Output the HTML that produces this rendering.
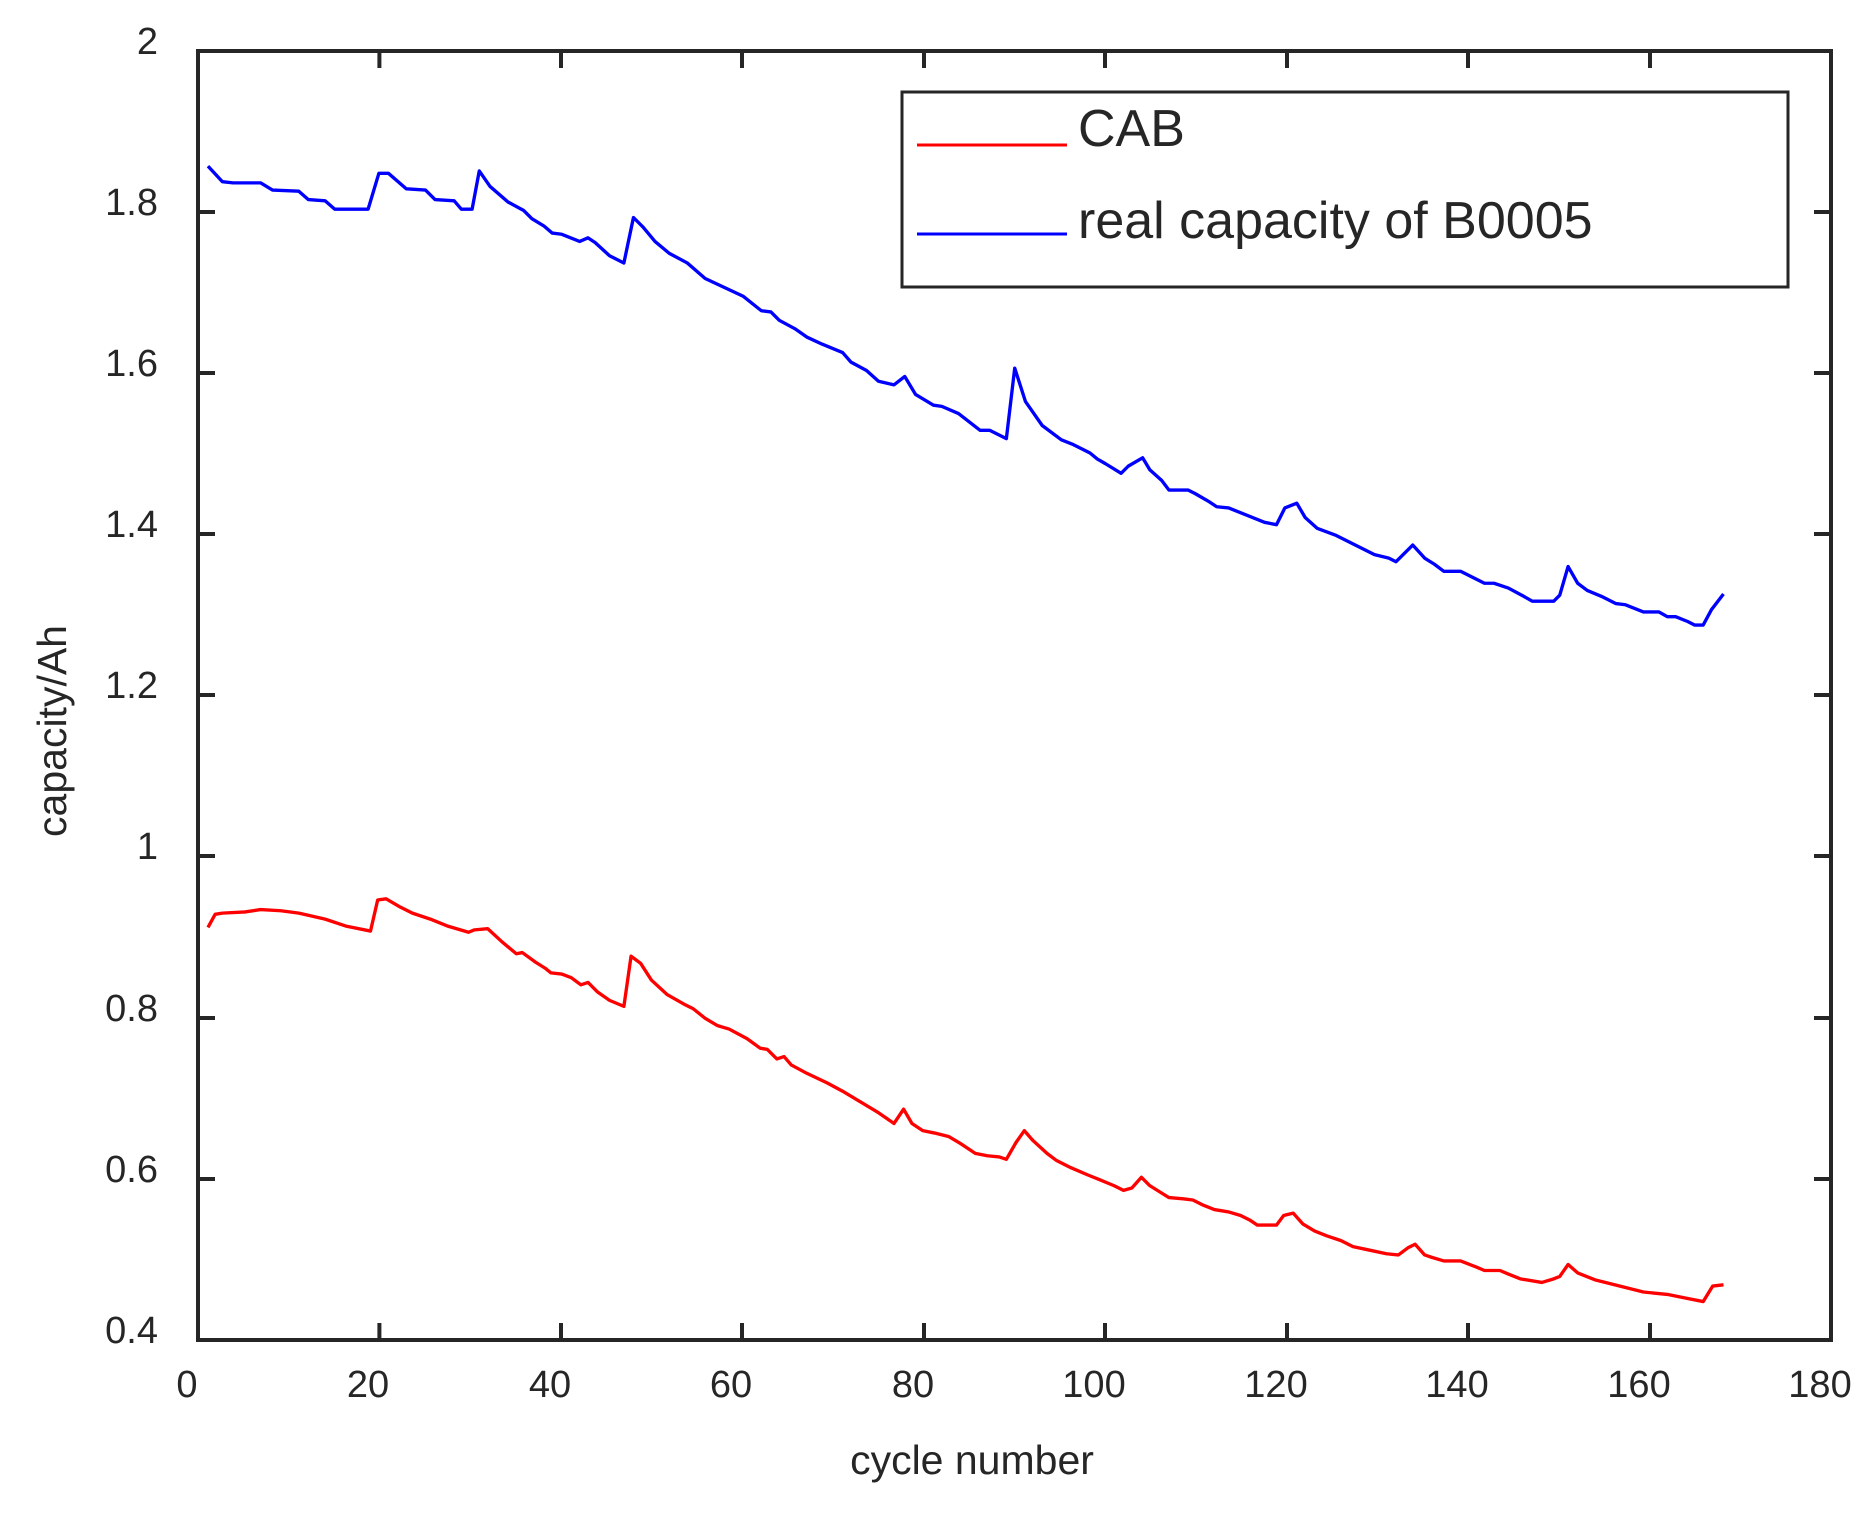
<!DOCTYPE html>
<html><head><meta charset="utf-8"><style>
html,body{margin:0;padding:0;background:#fff}
svg{display:block}
text{font-family:"Liberation Sans",Arial,sans-serif;fill:#262626}
</style></head><body>
<svg width="1873" height="1515" viewBox="0 0 1873 1515" xmlns="http://www.w3.org/2000/svg">
<rect width="1873" height="1515" fill="#fff"/>
<g transform="scale(1.1952)" fill="none" stroke-width="2.8" stroke-linejoin="round">
<polyline stroke="#0000ff" points="174,139 186,152 195,153 218,153 228,159 250,160 258,167 272,168 280,175 290,175 308,175 317,145 325,145 340,158 356,159 364,167 380,168 386,175 395,175 401,143 410,156 425,169 438,176 445,183 455,189 462,195 470,196 485,202 492,199 498,203 510,214 522,220 530,182 538,190 548,202 560,212 575,220 590,233 605,240 622,248 637,260 645,261 652,268 665,275 675,282 688,288 705,295 712,303 725,310 735,319 748,322 757,315 766,330 781,339 788,340 802,346 820,360 828,360 842,367 849,308 858,336 872,356 888,368 898,372 912,379 918,384 925,388 938,396 944,390 956,383 962,393 972,402 978,410 994,410 1000,413 1012,420 1018,424 1028,425 1058,437 1068,439 1075,425 1085,421 1092,433 1102,442 1118,448 1132,455 1150,464 1162,467 1168,470 1182,456 1192,467 1200,472 1208,478 1222,478 1242,488 1250,488 1262,492 1275,499 1282,503 1300,503 1305,498 1312,474 1320,488 1328,494 1340,499 1352,505 1360,506 1375,512 1388,512 1395,516 1402,516 1412,520 1418,523 1425,523 1432,510 1442,497"/>
<polyline stroke="#ff0000" points="174,776 180,765 186,764 205,763 218,761 235,762 250,764 272,769 290,775 310,779 316,753 323,752 335,759 345,764 360,769 375,775 392,780 397,778 408,777 420,788 432,798 437,797 448,805 456,810 461,814 470,815 478,818 486,824 492,822 500,830 510,837 522,842 528,800 536,806 545,820 558,832 572,840 580,844 590,852 600,858 610,861 625,869 636,877 642,878 650,886 656,884 662,891 675,898 692,906 705,913 720,922 735,931 748,940 756,928 763,940 772,946 782,948 794,951 804,957 816,965 826,967 836,968 842,970 850,956 857,946 864,954 876,965 884,971 896,977 910,983 920,987 932,992 940,996 947,994 955,985 962,992 970,997 978,1002 990,1003 998,1004 1006,1008 1016,1012 1028,1014 1038,1017 1046,1021 1052,1025 1068,1025 1074,1017 1082,1015 1090,1024 1100,1030 1110,1034 1122,1038 1132,1043 1146,1046 1160,1049 1170,1050 1178,1044 1184,1041 1192,1050 1198,1052 1208,1055 1222,1055 1235,1060 1242,1063 1255,1063 1262,1066 1272,1070 1290,1073 1300,1070 1305,1068 1312,1058 1320,1065 1335,1071 1355,1076 1375,1081 1395,1083 1410,1086 1425,1089 1433,1076 1442,1075"/>
</g>
<g stroke="#262626" stroke-width="4" fill="none">
<rect x="198" y="51" width="1633" height="1289"/>
<path d="M379.4,1340v-17M561,1340v-17M742,1340v-17M924,1340v-17M1105,1340v-17M1287,1340v-17M1468,1340v-17M1650,1340v-17
M379.4,51v17M561,51v17M742,51v17M924,51v17M1105,51v17M1287,51v17M1468,51v17M1650,51v17
M198,212h17M198,373h17M198,534h17M198,695h17M198,856h17M198,1018h17M198,1179h17
M1831,212h-17M1831,373h-17M1831,534h-17M1831,695h-17M1831,856h-17M1831,1018h-17M1831,1179h-17"/>
</g>
<g font-size="38" text-anchor="end">
<text x="158" y="54">2</text>
<text x="158" y="215">1.8</text>
<text x="158" y="376">1.6</text>
<text x="158" y="537">1.4</text>
<text x="158" y="698">1.2</text>
<text x="158" y="859">1</text>
<text x="158" y="1021">0.8</text>
<text x="158" y="1182">0.6</text>
<text x="158" y="1343">0.4</text>
</g>
<g font-size="38" text-anchor="middle">
<text x="187" y="1397">0</text>
<text x="368" y="1397">20</text>
<text x="550" y="1397">40</text>
<text x="731" y="1397">60</text>
<text x="913" y="1397">80</text>
<text x="1094" y="1397">100</text>
<text x="1276" y="1397">120</text>
<text x="1457" y="1397">140</text>
<text x="1639" y="1397">160</text>
<text x="1820" y="1397">180</text>
</g>
<g font-size="41" text-anchor="middle">
<text x="972" y="1474">cycle number</text>
<text transform="translate(66,731) rotate(-90)">capacity/Ah</text>
</g>
<rect x="902" y="92" width="886" height="195" fill="#fff" stroke="#262626" stroke-width="3"/>
<line x1="917" y1="145" x2="1067" y2="145" stroke="#ff0000" stroke-width="3"/>
<line x1="917" y1="234" x2="1067" y2="234" stroke="#0000ff" stroke-width="3"/>
<text x="1078" y="146" font-size="52">CAB</text>
<text x="1078" y="238" font-size="52">real capacity of B0005</text>
</svg>
</body></html>
